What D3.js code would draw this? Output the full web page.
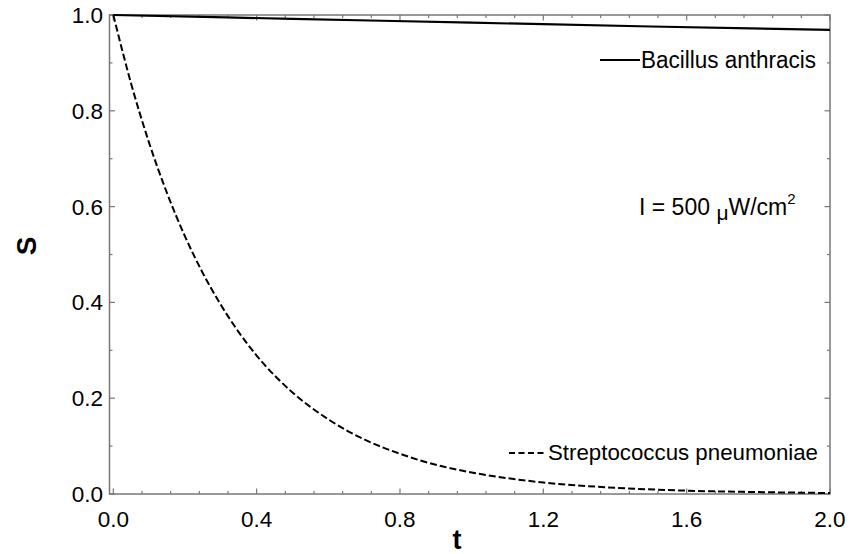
<!DOCTYPE html>
<html><head><meta charset="utf-8">
<script src="https://cdn.jsdelivr.net/npm/d3@7"></script>
<style>body{margin:0;background:#fff}svg{display:block}text{font-family:"Liberation Sans",Arial,sans-serif;fill:#000}</style>
</head><body>
<svg id="c" width="858" height="554"></svg>
<script>
// Data
const tBacillus = [0, 0.5, 1.0, 1.5, 2.0];
const sBacillus = [1.0, 0.992, 0.984, 0.976, 0.969];
const tStrep = [0, 0.05, 0.1, 0.15, 0.2, 0.25, 0.3, 0.35, 0.4, 0.5, 0.6, 0.7, 0.8, 0.9, 1.0, 1.1, 1.2, 1.4, 1.6, 1.8, 2.0];
const sStrep = [1.0, 0.856, 0.733, 0.628, 0.538, 0.461, 0.395, 0.338, 0.289, 0.212, 0.156, 0.114, 0.084, 0.061, 0.045, 0.033, 0.024, 0.013, 0.007, 0.004, 0.002];
const xMajor = [0, 0.4, 0.8, 1.2, 1.6, 2.0];
const xMinorStep = 0.08;
const yMajor = [0, 0.2, 0.4, 0.6, 0.8, 1.0];
const yMinorStep = 0.1;
const legendNames = ["Bacillus anthracis", "Streptococcus pneumoniae"];

const svg = d3.select("#c");
const L = 109.5, R = 830, T = 15, B = 494;
const x = d3.scaleLinear().domain([0, 2]).range([113.3, 830]);
const y = d3.scaleLinear().domain([0, 1]).range([494, 15]);
const axisCol = "#777";

const xMinor = d3.range(0, 2.0001, xMinorStep).filter(v => !xMajor.some(m => Math.abs(m - v) < 1e-6));
const yMinor = d3.range(0, 1.0001, yMinorStep).filter(v => !yMajor.some(m => Math.abs(m - v) < 1e-6));

// Frame
svg.append("rect").attr("x", L).attr("y", T).attr("width", R - L).attr("height", B - T)
  .attr("fill", "none").attr("stroke", axisCol).attr("stroke-width", 1.5);

const g = svg.append("g").attr("stroke", axisCol).attr("stroke-width", 1.2);
const maj = 5.5, min = 3;
xMajor.concat(xMinor).forEach(v => {
  const len = xMajor.includes(v) ? maj : min;
  g.append("line").attr("x1", x(v)).attr("x2", x(v)).attr("y1", B).attr("y2", B - len);
  g.append("line").attr("x1", x(v)).attr("x2", x(v)).attr("y1", T).attr("y2", T + len);
});
yMajor.concat(yMinor).forEach(v => {
  const len = yMajor.includes(v) ? maj : min;
  g.append("line").attr("y1", y(v)).attr("y2", y(v)).attr("x1", L).attr("x2", L + len);
  g.append("line").attr("y1", y(v)).attr("y2", y(v)).attr("x1", R).attr("x2", R - len);
});

// Tick labels
svg.append("g").selectAll("text").data(xMajor).join("text")
  .attr("x", d => x(d)).attr("y", 527).attr("text-anchor", "middle")
  .attr("font-size", 22.5).text(d => d.toFixed(1));
svg.append("g").selectAll("text").data(yMajor).join("text")
  .attr("x", 103).attr("y", d => y(d) + 8).attr("text-anchor", "end")
  .attr("font-size", 22.5).text(d => d.toFixed(1));

// Axis titles
svg.append("text").attr("x", 457).attr("y", 549).attr("text-anchor", "middle")
  .attr("font-size", 27).attr("font-weight", "bold").text("t");
svg.append("text").attr("transform", "translate(36,246) rotate(-90)").attr("text-anchor", "middle")
  .attr("font-size", 28).attr("font-weight", "bold").text("S");

// Curves
const line = d3.line().x(d => x(d[0])).y(d => y(d[1])).curve(d3.curveMonotoneX);
svg.append("path").datum(tBacillus.map((t, i) => [t, sBacillus[i]]))
  .attr("d", line).attr("fill", "none").attr("stroke", "#000").attr("stroke-width", 2.2);
svg.append("path").datum(tStrep.map((t, i) => [t, sStrep[i]]))
  .attr("d", line).attr("fill", "none").attr("stroke", "#000").attr("stroke-width", 2)
  .attr("stroke-dasharray", "7,3");

// Legends
svg.append("line").attr("x1", 600).attr("x2", 640).attr("y1", 60).attr("y2", 60)
  .attr("stroke", "#000").attr("stroke-width", 2.2);
svg.append("text").attr("x", 641).attr("y", 68).attr("font-size", 23).attr("textLength", 175)
  .attr("lengthAdjust", "spacingAndGlyphs").text(legendNames[0]);
svg.append("line").attr("x1", 509).attr("x2", 546).attr("y1", 453).attr("y2", 453)
  .attr("stroke", "#000").attr("stroke-width", 2).attr("stroke-dasharray", "6,3.5");
svg.append("text").attr("x", 548).attr("y", 460).attr("font-size", 22.5).attr("textLength", 270)
  .attr("lengthAdjust", "spacingAndGlyphs").text(legendNames[1]);

// Annotation
const ann = svg.append("text").attr("x", 639).attr("y", 215).attr("font-size", 23);
ann.append("tspan").text("I = 500 ");
ann.append("tspan").attr("font-size", 21).attr("dy", 5).text("μ");
ann.append("tspan").attr("dy", -5).text("W/cm");
ann.append("tspan").attr("font-size", 15).attr("dy", -11).text("2");
</script>
</body></html>
